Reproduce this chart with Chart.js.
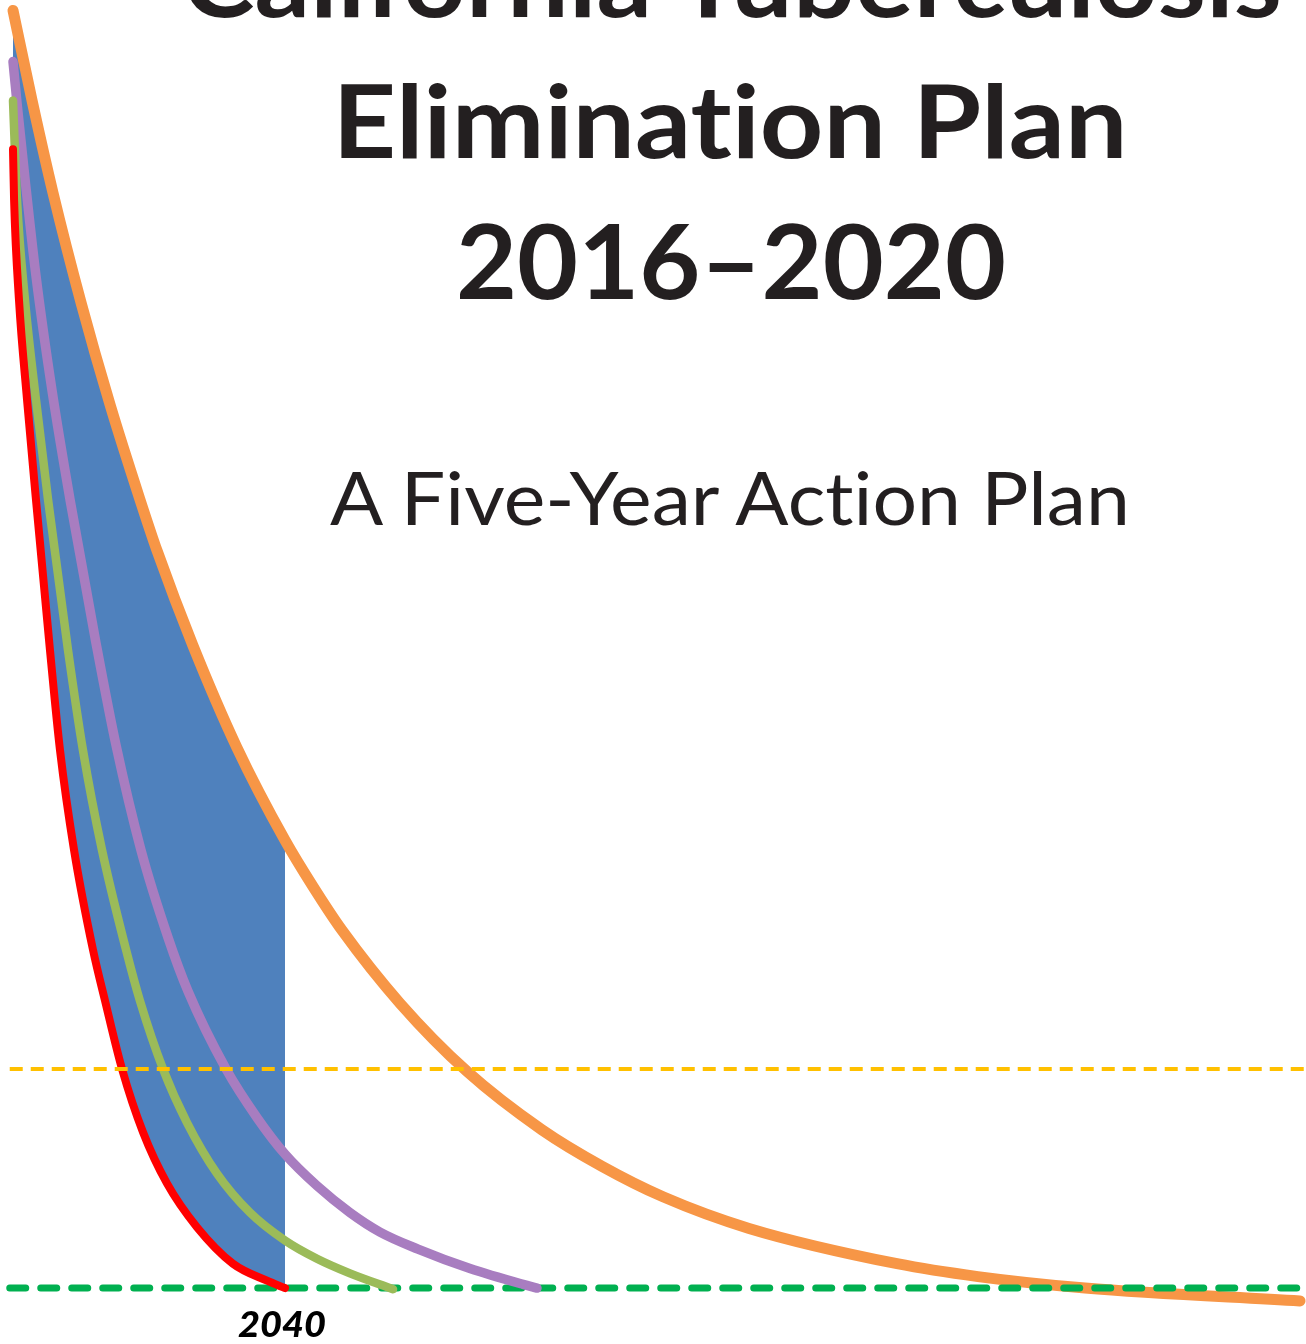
<!DOCTYPE html>
<html>
<head>
<meta charset="utf-8">
<script src="https://cdn.jsdelivr.net/npm/chart.js@4.4.1/dist/chart.umd.min.js"></script>
<style>
  html, body { margin: 0; padding: 0; background: #ffffff; overflow: hidden; }
  #wrap { position: relative; width: 1306px; height: 1344px; }
  #c { position: absolute; left: 0; top: 0; }
  #txt { position: absolute; left: 0; top: 0; pointer-events: none; }
  #txt text { fill: #231F20; font-family: Lato, "Open Sans", sans-serif;
    font-variant-ligatures: none; font-feature-settings: "liga" 0, "clig" 0, "dlig" 0; }
</style>
</head>
<body>
<div id="wrap">
  <canvas id="c" width="1306" height="1344"></canvas>
  <svg id="txt" width="1306" height="1344" xmlns="http://www.w3.org/2000/svg"></svg>
</div>
<script>
// ---- Data (rate per million vs. year) ----
const titleLines = ['California Tuberculosis', 'Elimination Plan', '2016\u20132020'];
const subtitle = 'A Five-Year Action Plan';
const targetYear = 2040;
const tickLabels = ['2040'];

const eliminationRate = 1;      // green dashed line
const preEliminationRate = 10;  // yellow dashed line
const refLineYears = [2014.7, 2133.2];
const yellowLineYears = [2014.7, 2134.5];

const orangeYears = [2015.0, 2016.75, 2018.68, 2021.25, 2023.92, 2026.67, 2028.24, 2031.54, 2035.59, 2040.0, 2042.57, 2045.24, 2050.57, 2056.73, 2063.62, 2069.14, 2074.74, 2082.65, 2096.25, 2103.69, 2113.53, 2133.29];
const orangeRates = [53.5, 49.8, 46.0, 41.5, 37.3, 33.4, 31.3, 27.4, 23.2, 19.4, 17.5, 15.7, 12.7, 9.9, 7.5, 6.0, 4.75, 3.45, 2.0, 1.47, 1.0, 0.47];

const purpleYears = [2015.0, 2015.37, 2016.10, 2017.11, 2018.58, 2020.24, 2022.63, 2024.47, 2026.76, 2029.25, 2031.08, 2034.58, 2037.43, 2040.0, 2042.94, 2045.97, 2048.73, 2052.22, 2057.0, 2061.88, 2063.16];
const purpleRates = [51.4, 49.7, 46.6, 42.6, 37.9, 33.4, 27.5, 23.3, 19.0, 15.4, 13.2, 10.0, 8.0, 6.5, 5.2, 4.1, 3.3, 2.6, 1.8, 1.15, 1.0];

const greenYears = [2015.0, 2015.37, 2016.10, 2017.11, 2018.22, 2020.06, 2021.43, 2023.18, 2025.39, 2026.67, 2028.79, 2030.99, 2033.75, 2036.78, 2040.0, 2042.94, 2045.97, 2049.93];
const greenRates = [49.8, 45.7, 41.6, 37.5, 33.4, 27.2, 23.1, 19.0, 14.9, 12.8, 10.0, 7.8, 5.7, 4.1, 2.95, 2.2, 1.6, 0.95];

const redYears = [2015.0, 2015.1, 2015.55, 2016.29, 2017.11, 2018.40, 2019.32, 2020.61, 2022.35, 2023.46, 2025.02, 2026.95, 2029.15, 2031.91, 2035.22, 2038.35, 2040.0];
const redRates = [47.8, 45.7, 41.6, 37.5, 33.4, 27.2, 23.1, 19.0, 14.9, 12.8, 10.0, 7.4, 5.3, 3.5, 2.0, 1.3, 1.0];

// ---- Build chart ----
const pts = (xs, ys) => xs.map((x, i) => ({x: x, y: ys[i]}));
const bandPts = pts(orangeYears, orangeRates).filter(p => p.x <= targetYear);
const flat = (xs, v) => xs.map(x => ({x: x, y: v}));

const curve = (label, data, color, width) => ({
  label, data, borderColor: color, borderWidth: width, backgroundColor: color,
  fill: false, pointRadius: 0, cubicInterpolationMode: 'monotone',
  borderCapStyle: 'round', borderJoinStyle: 'round'
});

const datasets = [
  Object.assign(curve('Pre-elimination', flat(yellowLineYears, preEliminationRate), '#FFC000', 4),
    {borderDash: [13, 8], borderCapStyle: 'butt', cubicInterpolationMode: 'default', tension: 0}),
  curve('Scenario C', pts(redYears, redRates), '#FF0000', 8),
  curve('Scenario B', pts(greenYears, greenRates), '#9BBB59', 8.5),
  curve('Scenario A', pts(purpleYears, purpleRates), '#A87DC0', 9.5),
  Object.assign(curve('Elimination', flat(refLineYears, eliminationRate), '#00B050', 7),
    {borderDash: [16, 15], cubicInterpolationMode: 'default', tension: 0}),
  curve('Current trend', pts(orangeYears, orangeRates), '#F79646', 11),
  Object.assign(curve('Target band', bandPts, '#4F81BD', 0), {fill: 1, backgroundColor: '#4F81BD'})
];

new Chart(document.getElementById('c'), {
  type: 'line',
  data: { datasets },
  options: {
    responsive: false,
    animation: false,
    devicePixelRatio: 1,
    layout: { padding: 0 },
    plugins: { legend: { display: false }, tooltip: { enabled: false }, title: { display: false } },
    scales: {
      x: { type: 'linear', min: 2013.805, max: 2133.84, display: false },
      y: { type: 'linear', min: -1.30, max: 53.93, display: false }
    }
  }
});

// ---- Text overlay (real text) ----
const svg = document.getElementById('txt');
function addText(str, x, y, size, weight, style, len, color) {
  const t = document.createElementNS('http://www.w3.org/2000/svg', 'text');
  t.setAttribute('x', x);
  t.setAttribute('y', y);
  t.setAttribute('text-anchor', 'middle');
  t.setAttribute('font-size', size);
  t.setAttribute('font-weight', weight);
  t.setAttribute('font-style', style);
  if (color) t.style.fill = color;
  if (len) { t.setAttribute('textLength', len); t.setAttribute('lengthAdjust', 'spacingAndGlyphs'); }
  t.textContent = str;
  svg.appendChild(t);
}
addText(titleLines[0], 732, 17, 102, 700, 'normal', 1100);
addText(titleLines[1], 730, 158, 102, 700, 'normal', 795);
addText(titleLines[2], 731, 299, 104, 700, 'normal', 550);
addText(subtitle, 730, 525, 74, 400, 'normal', 800);
addText(tickLabels[0], 282, 1337, 36, 900, 'italic', 88, '#000000');
</script>
</body>
</html>
